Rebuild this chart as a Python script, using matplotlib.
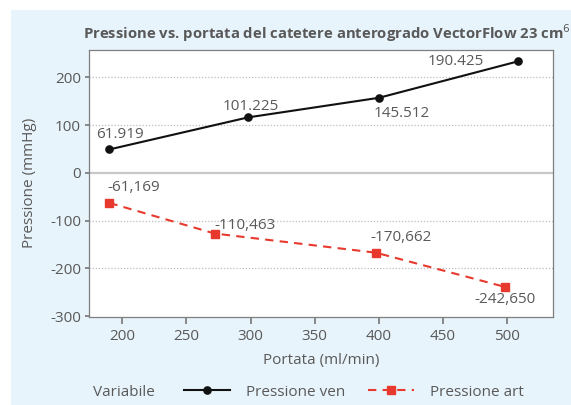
import matplotlib.pyplot as plt
import matplotlib.ticker as tick
from matplotlib.lines import Line2D
from matplotlib.patches import Rectangle

# data
portata_ven = [190, 298, 400, 508]
pressione_ven = [49, 116, 157, 233]
labels_ven = ["61.919", "101.225", "145.512", "190.425"]

portata_art = [190, 272, 397.5, 498]
pressione_art = [-63, -127, -167, -238.5]
labels_art = ["-61,169", "-110,463", "-170,662", "-242,650"]

x_ticks = [200, 250, 300, 350, 400, 450, 500]
y_ticks = [-300, -200, -100, 0, 100, 200]

text_col = "#595959"
red = "#E8392E"
plt.rcParams['font.family'] = ['Open Sans', 'DejaVu Sans']
plt.rcParams['axes.unicode_minus'] = False

fig = plt.figure(figsize=(5.71, 4.05), dpi=100)

# light blue panel behind everything
fig.patches.append(Rectangle((11 / 571, 0), 1, 1 - 10 / 405, transform=fig.transFigure,
                             facecolor="#E8F4FB", edgecolor="none", zorder=-10))

ax = fig.add_axes([89.3 / 571, 1 - 316.7 / 405, 463.4 / 571, 266.7 / 405])
ax.set_facecolor("white")

ax.plot(portata_ven, pressione_ven, color="#111111", lw=1.5, marker="o", ms=5.2, zorder=3)
ax.plot(portata_art, pressione_art, color=red, lw=1.5, ls=(0, (4, 3)), marker="s", ms=5.2, zorder=3)

# data labels, offsets in pixels
ven_offsets = [(11, 15), (3, 11), (23, -16), (-62, 0)]
art_offsets = [(24, 15), (30, 8), (25, 15), (0, -13)]
for x, y, lab, off in zip(portata_ven, pressione_ven, labels_ven, ven_offsets):
    ax.annotate(lab, (x, y), xytext=off, textcoords="offset pixels",
                ha="center", va="center", fontsize=11, color=text_col)
for x, y, lab, off in zip(portata_art, pressione_art, labels_art, art_offsets):
    ax.annotate(lab, (x, y), xytext=off, textcoords="offset pixels",
                ha="center", va="center", fontsize=11, color=text_col)

ax.set_xlim(174.3, 535.4)
ax.set_ylim(-301, 257)
ax.xaxis.set_major_locator(tick.FixedLocator(x_ticks))
ax.yaxis.set_major_locator(tick.FixedLocator(y_ticks))

# grid and zero line
for v in y_ticks:
    if v == 0:
        ax.axhline(0, color="#C8C8C8", lw=1.6, zorder=1)
    elif v > -300:
        ax.axhline(v, color="#BFBFBF", lw=0.9, ls=(0, (1, 1.5)), zorder=1)

for s in ax.spines.values():
    s.set_color("#7F7F7F")
    s.set_linewidth(0.9)

ax.tick_params(axis="both", colors="#7F7F7F", labelcolor=text_col, labelsize=11,
               length=5, width=1.3)
ax.tick_params(axis="x", pad=4)
ax.tick_params(axis="y", length=3, pad=3)

ax.set_xlabel("Portata (ml/min)", fontsize=11, color=text_col, va="center")
ax.xaxis.set_label_coords(0.5, -44 / 266.7)
ax.set_ylabel("Pressione (mmHg)", fontsize=11, color=text_col, va="center")
ax.yaxis.set_label_coords(-60 / 463.4, 0.5)

# the title runs past the right edge in the reference as well
fig.text(82.7 / 571, 1 - 33 / 405, "Pressione vs. portata del catetere anterogrado VectorFlow 23 cm$^{6}$",
         fontsize=10.7, fontweight="bold", color=text_col, ha="left", va="center")

# legend
fig.text(124 / 571, 1 - 392 / 405, "Variabile", fontsize=11, color=text_col, ha="center", va="center")
handles = [Line2D([], [], color="#111111", lw=1.5, marker="o", ms=5.2),
           Line2D([], [], color=red, lw=1.5, ls=(0, (4, 3)), marker="s", ms=5.2)]
fig.legend(handles, ["Pressione ven", "Pressione art"], ncol=2, frameon=False,
           loc="center", bbox_to_anchor=(354 / 571, 1 - 392 / 405), fontsize=11,
           labelcolor=text_col, handlelength=3, columnspacing=1.45, handletextpad=1.1)

fig.savefig("out.png", dpi=100)
